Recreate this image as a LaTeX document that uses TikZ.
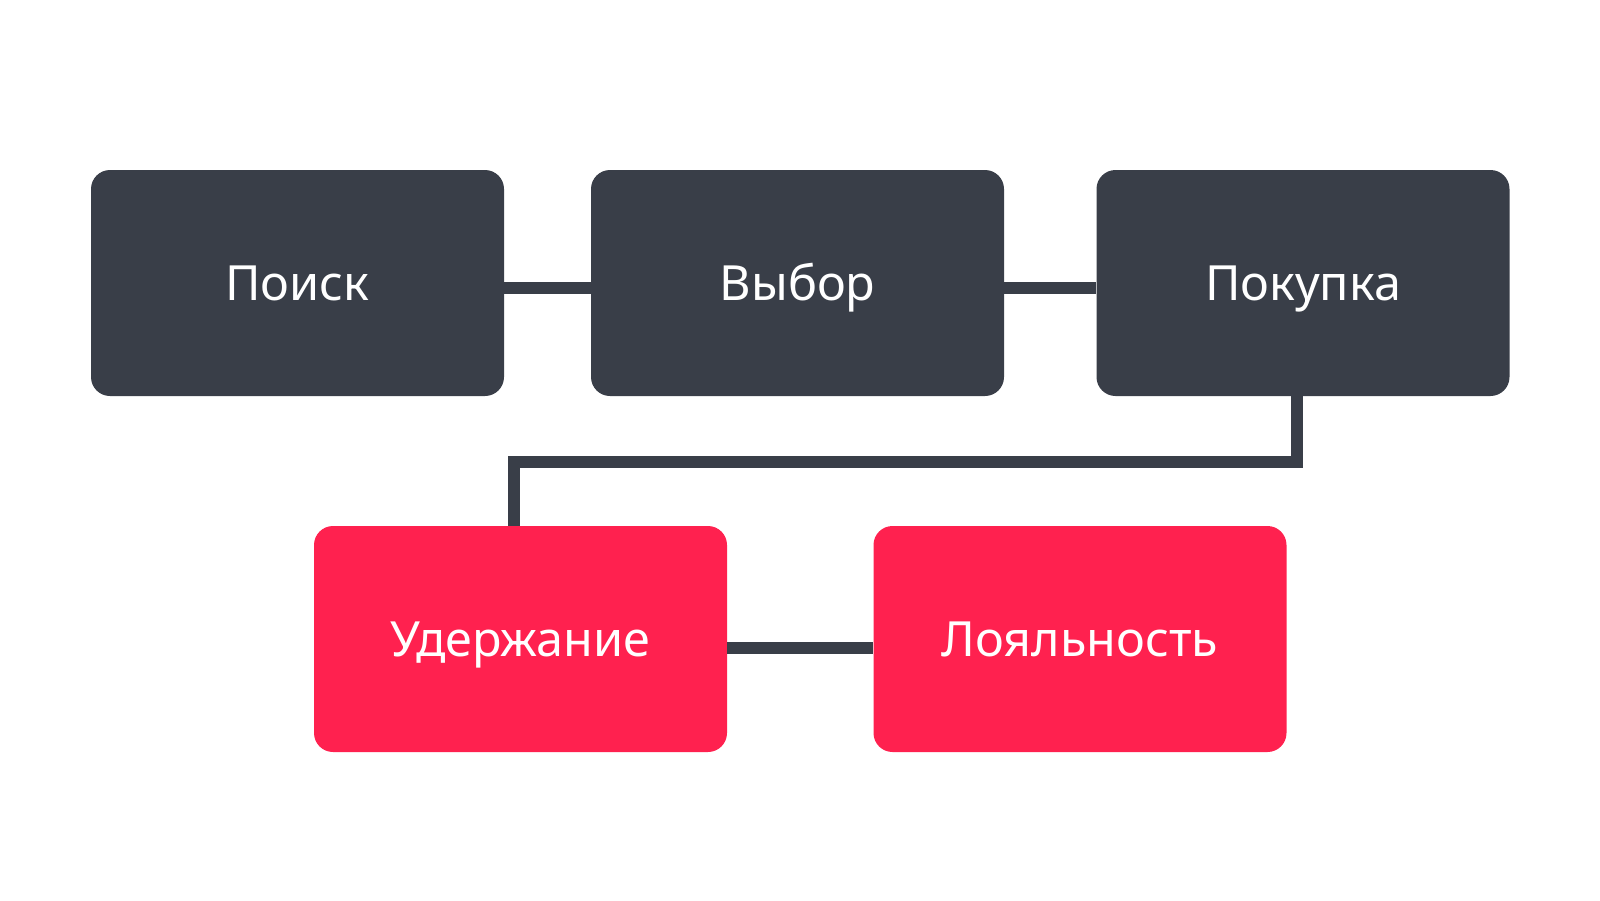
\documentclass[tikz,border=0pt]{standalone}
\usepackage{fontspec}
\setmainfont{Noto Sans}
\definecolor{darkbox}{RGB}{57,62,72}
\definecolor{redbox}{RGB}{255,33,79}
\tikzset{
  stagebox/.style={rounded corners=19pt, minimum width=413pt, minimum height=226pt, inner sep=0pt, text=white, text height=34.6pt, text depth=0pt, font=\fontsize{48.5}{56}\selectfont},
  darkstage/.style={stagebox, fill=darkbox},
  redstage/.style={stagebox, fill=redbox},
  link/.style={draw=darkbox, line width=12pt, line join=miter, line cap=butt}
}
\begin{document}
\begin{tikzpicture}[x=1pt,y=-1pt]
\useasboundingbox (0,0) rectangle (1600,900);
\node[darkstage] (a) at (297.5,283) {Поиск};
\node[darkstage] (b) at (797.5,283) {Выбор};
\node[darkstage] (c) at (1303,283) {Покупка};
\node[redstage] (d) at (520.5,639) {Удержание};
\node[redstage] (e) at (1080,639) {Лояльность};
\draw[link] ([yshift=-5pt]a.east) -- ([yshift=-5pt]b.west);
\draw[link] ([yshift=-5pt]b.east) -- ([yshift=-5pt]c.west);
\draw[link] ([xshift=-6pt]c.south) -- ++(0pt,-66pt) -| ([xshift=-6.5pt]d.north);
\draw[link] ([yshift=-9pt]d.east) -- ([yshift=-9pt]e.west);
\end{tikzpicture}
\end{document}
